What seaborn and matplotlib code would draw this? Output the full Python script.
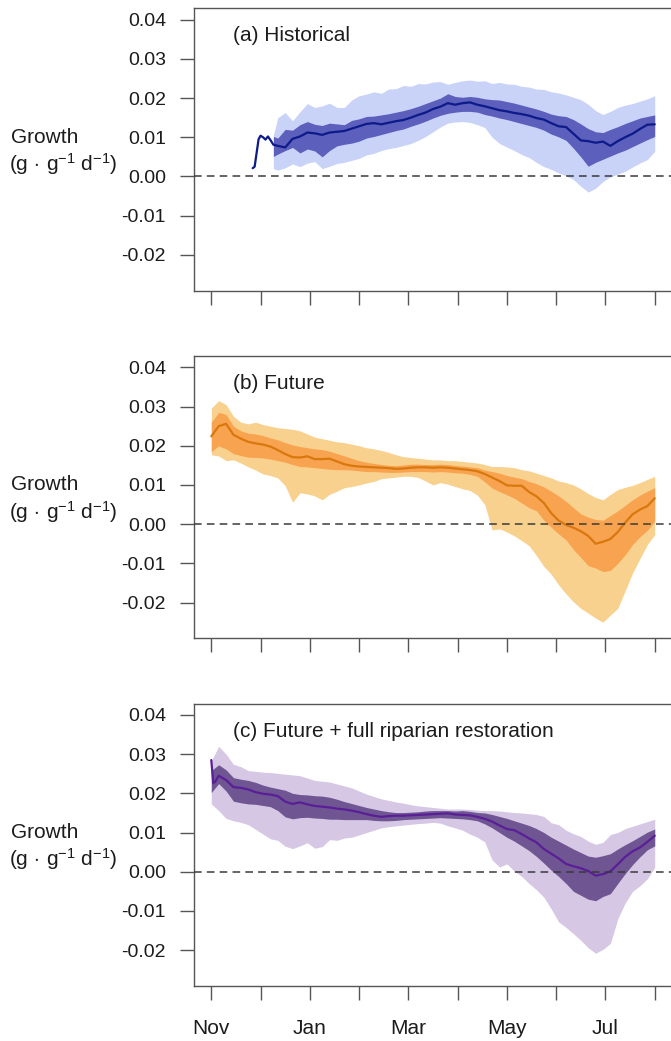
import numpy as np
import pandas as pd
import matplotlib
matplotlib.use("Agg")
import matplotlib.pyplot as plt
import matplotlib.transforms as mtransforms
import seaborn as sns

sns.set_theme(style="white")
plt.rcParams['font.family'] = ['Liberation Sans', 'DejaVu Sans']
plt.rcParams['mathtext.fontset'] = 'custom'
plt.rcParams['mathtext.rm'] = 'Liberation Sans'
plt.rcParams['mathtext.it'] = 'Liberation Sans:italic'
plt.rcParams['mathtext.bf'] = 'Liberation Sans:bold'

# ---------------- data (growth in units of 1e-3 g g^-1 d^-1; x in months since Nov 1) ----------------
SCALE = 1e-3
months = [0, 0.15, 0.3, 0.45, 0.6, 0.75, 0.9, 1.05, 1.2, 1.35, 1.5, 1.65, 1.8, 1.95, 2.1, 2.25, 2.4, 2.55,
          2.7, 2.85, 3.0, 3.15, 3.3, 3.45, 3.6, 3.75, 3.9, 4.05, 4.2, 4.35, 4.5, 4.65, 4.8, 4.95, 5.1, 5.25,
          5.4, 5.55, 5.7, 5.85, 6.0, 6.15, 6.3, 6.45, 6.6, 6.75, 6.9, 7.05, 7.2, 7.35, 7.5, 7.65, 7.8, 7.95,
          8.1, 8.25, 8.4, 8.55, 8.7, 8.85, 9.0]
month_ticks = [0, 1, 2, 3, 4, 5, 6, 7, 8, 9]
month_labels = ["Nov", "", "Jan", "", "Mar", "", "May", "", "Jul", ""]
y_ticks = [-0.02, -0.01, 0.00, 0.01, 0.02, 0.03, 0.04]
y_tick_labels = ["-0.02", "-0.01", "0.00", "0.01", "0.02", "0.03", "0.04"]

# (a) Historical
hist_x_early = [0.84, 0.88, 0.92, 0.96, 1.0, 1.05, 1.1, 1.15, 1.2]
hist_mean_early = [2.1, 2.5, 6.0, 9.5, 10.4, 10.0, 9.4, 10.2, 9.3]
hist_x = [1.26] + months[9:]
hist_mean = [8.1, 7.8, 7.4, 9.6, 10.2, 11.2, 11.0, 10.6, 11.2, 11.4,
             11.6, 12.2, 12.8, 13.4, 13.6, 13.3, 13.7, 14.1, 14.4, 15.0,
             15.7, 16.3, 17.2, 17.8, 18.7, 18.3, 18.7, 18.9, 18.3, 17.9,
             17.4, 16.9, 16.6, 16.2, 15.9, 15.5, 14.9, 14.5, 13.6, 12.8,
             12.6, 10.9, 9.2, 9.0, 8.6, 8.9, 7.8, 9.0, 10.0, 10.9,
             12.1, 13.2, 13.3]
hist_in_hi = [10.2, 9.8, 12.0, 11.8, 13.2, 14.0, 13.3, 13.0, 13.6, 13.4,
              13.2, 14.3, 14.7, 15.3, 15.4, 15.7, 16.0, 16.4, 16.8, 17.3,
              17.9, 18.6, 19.3, 20.0, 21.1, 20.4, 20.2, 20.4, 20.2, 19.8,
              19.6, 19.5, 19.1, 18.7, 18.2, 17.7, 17.2, 16.6, 15.9, 15.5,
              15.3, 14.5, 13.4, 12.2, 11.4, 11.2, 12.0, 12.7, 13.5, 14.2,
              14.9, 15.3, 15.7]
hist_in_lo = [5.1, 5.7, 6.6, 7.4, 6.0, 7.0, 6.5, 5.0, 6.6, 7.8,
              8.2, 8.5, 9.0, 9.8, 10.2, 10.7, 11.2, 11.7, 12.1, 12.8,
              13.4, 14.1, 14.9, 15.6, 16.1, 16.4, 16.6, 16.6, 16.4, 15.8,
              15.4, 14.9, 14.5, 14.0, 13.5, 13.0, 12.5, 11.8, 10.8, 10.1,
              9.2, 7.2, 5.0, 2.6, 3.6, 4.4, 5.2, 6.0, 6.7, 7.6,
              8.5, 9.4, 10.2]
hist_out_hi = [10.5, 15.0, 16.3, 14.2, 16.5, 18.6, 17.6, 18.0, 18.7, 17.6,
               17.6, 19.5, 20.6, 21.0, 21.6, 21.2, 22.3, 22.4, 23.2, 23.0,
               23.7, 23.6, 24.1, 24.2, 23.5, 24.0, 24.4, 24.6, 24.3, 24.4,
               23.7, 24.0, 23.6, 23.5, 23.0, 22.8, 22.3, 22.2, 21.6, 21.3,
               20.8, 20.2, 19.6, 18.4, 16.8, 15.8, 16.6, 17.6, 18.2, 18.6,
               19.2, 19.8, 20.6]
hist_out_lo = [2.0, 1.6, 2.2, 3.2, 2.5, 3.4, 3.8, 2.0, 2.6, 3.3,
               3.6, 4.1, 4.6, 5.5, 5.9, 6.6, 7.1, 7.4, 7.9, 8.4,
               9.2, 10.2, 11.4, 12.6, 13.6, 13.9, 14.0, 13.8, 13.2, 12.5,
               10.0, 8.4, 7.5, 6.6, 5.6, 4.8, 3.6, 2.5, 1.8, 0.9,
               0.2, -0.8, -2.5, -4.0, -3.0, -1.3, -0.1, 0.6, 1.3, 2.4,
               3.4, 4.3, 6.4]

# (b) Future
fut_x = months
fut_mean = [22.4, 25.0, 25.6, 22.8, 21.8, 21.0, 20.6, 20.3, 19.8, 18.9,
            17.9, 17.1, 17.0, 17.3, 16.6, 16.6, 16.7, 16.0, 15.3, 14.9,
            14.7, 14.6, 14.5, 14.4, 14.3, 14.1, 14.2, 14.4, 14.5, 14.5,
            14.4, 14.5, 14.4, 14.2, 14.0, 13.8, 13.5, 12.8, 11.9, 11.0,
            9.9, 9.8, 9.8, 8.2, 7.1, 5.4, 2.8, 0.9, -0.2, -0.9,
            -1.8, -3.0, -5.0, -4.5, -3.8, -2.0, 0.4, 2.5, 3.7, 4.6,
            6.6]
fut_in_hi = [26.0, 28.5, 28.0, 25.0, 23.8, 23.2, 23.0, 22.6, 22.0, 21.5,
             20.8, 20.2, 19.8, 19.5, 19.2, 19.0, 18.6, 18.0, 17.4, 16.8,
             16.2, 15.8, 15.5, 15.2, 15.0, 14.9, 15.1, 15.3, 15.3, 15.2,
             15.2, 15.3, 15.2, 15.0, 14.8, 14.6, 14.4, 13.8, 13.4, 13.0,
             12.4, 12.0, 11.6, 10.9, 10.3, 9.5, 8.4, 7.2, 5.8, 4.2,
             2.6, 1.8, 1.2, 1.0, 2.2, 3.4, 4.8, 6.2, 7.4, 8.4,
             9.3]
fut_in_lo = [18.5, 20.0, 19.2, 18.0, 17.5, 17.1, 17.0, 16.9, 16.6, 16.2,
             15.8, 15.2, 14.7, 14.6, 14.4, 14.2, 14.0, 13.9, 13.9, 13.8,
             13.6, 13.4, 13.4, 13.3, 13.2, 13.2, 13.3, 13.4, 13.4, 13.4,
             13.3, 13.4, 13.3, 13.1, 13.0, 12.7, 12.2, 10.8, 9.2, 8.3,
             7.5, 6.6, 5.4, 4.2, 3.4, 1.0, -0.8, -2.5, -4.0, -6.5,
             -8.5, -10.6, -11.2, -12.1, -11.8, -10.0, -7.8, -5.2, -3.2, -1.6,
             0.7]
fut_out_hi = [29.6, 31.5, 30.5, 27.5, 26.0, 25.6, 26.0, 25.4, 25.0, 24.6,
              24.4, 24.2, 23.8, 23.0, 22.2, 21.8, 21.4, 21.0, 20.8, 20.4,
              20.0, 19.5, 19.2, 18.8, 18.3, 17.7, 17.2, 17.0, 16.8, 16.6,
              16.4, 16.4, 16.2, 16.2, 16.0, 15.8, 15.6, 15.2, 14.7, 14.7,
              14.6, 14.4, 13.9, 13.6, 13.0, 12.4, 11.8, 11.0, 10.6, 10.0,
              9.0, 7.8, 6.8, 6.2, 7.6, 8.8, 9.4, 9.9, 10.6, 11.4,
              12.2]
fut_out_lo = [17.7, 17.4, 16.2, 16.4, 15.6, 14.6, 13.8, 12.8, 12.4, 11.8,
              9.8, 5.6, 8.0, 7.7, 7.2, 6.2, 7.6, 8.4, 9.3, 9.6,
              10.0, 10.5, 10.9, 11.6, 11.8, 12.0, 12.2, 12.2, 11.9, 11.0,
              10.0, 10.6, 10.2, 9.6, 9.0, 8.6, 7.4, 5.0, -1.5, -1.2,
              -2.0, -3.0, -4.2, -5.5, -8.0, -10.8, -12.8, -15.5, -17.8, -19.8,
              -21.5, -22.7, -24.0, -25.0, -23.2, -21.5, -17.0, -12.5, -8.8, -5.2,
              -2.7]

# (c) Future + full riparian restoration
rest_x = months
rest_x_line = [0, 0.04, 0.08] + months[1:]
rest_mean = [28.5, 22.6, 23.0,
             24.5, 23.4, 21.6, 21.4, 21.0, 20.3, 19.9, 19.7, 19.3,
             17.9, 17.3, 17.7, 17.2, 16.8, 16.6, 16.4, 16.1, 15.9, 15.6,
             15.2, 14.7, 14.3, 14.0, 14.2, 14.3, 14.3, 14.4, 14.5, 14.6,
             14.7, 14.8, 14.9, 14.6, 14.5, 14.4, 14.0, 13.5, 12.8, 11.8,
             10.9, 10.6, 9.6, 8.5, 7.5, 5.8, 4.6, 3.4, 2.0, 1.4,
             0.9, 0.2, -1.0, -0.6, 0.1, 1.9, 3.8, 5.2, 6.2, 7.6,
             9.2]
rest_in_hi = [25.8, 27.3, 26.0, 24.0, 23.6, 23.3, 22.8, 22.1, 21.6, 21.2,
              20.8, 20.0, 19.7, 19.6, 19.4, 19.3, 19.0, 18.5, 17.9, 17.4,
              16.9, 16.4, 16.0, 15.6, 15.3, 15.1, 15.1, 15.2, 15.3, 15.5,
              15.6, 15.6, 15.6, 15.5, 15.6, 15.4, 15.1, 15.0, 14.6, 14.1,
              13.6, 13.0, 12.4, 11.8, 11.0, 10.0, 8.8, 7.8, 6.8, 5.8,
              4.9, 4.0, 3.7, 4.1, 4.6, 5.8, 6.9, 7.9, 9.0, 10.1,
              10.9]
rest_in_lo = [20.2, 22.5, 20.6, 18.0, 17.6, 17.3, 17.2, 16.9, 16.6, 15.6,
              14.0, 13.5, 13.8, 13.9, 13.7, 13.6, 13.4, 13.4, 13.3, 13.3,
              13.3, 13.3, 13.1, 13.0, 13.0, 13.1, 13.3, 13.4, 13.5, 13.6,
              13.7, 13.8, 13.7, 13.6, 13.5, 13.3, 13.0, 12.2, 11.2, 10.0,
              8.8, 7.8, 6.6, 5.4, 3.9, 2.2, 0.4, -1.2, -3.0, -5.0,
              -6.0, -7.0, -7.4, -6.3, -5.6, -3.0, -0.5, 1.8, 3.8, 5.6,
              6.6]
rest_out_hi = [28.3, 32.0, 30.0, 27.4, 26.8, 25.8, 25.6, 25.4, 25.3, 25.1,
               24.9, 24.7, 24.5, 23.9, 23.3, 23.1, 22.9, 22.4, 21.9, 21.4,
               20.6, 19.8, 19.2, 18.6, 18.2, 17.8, 17.5, 17.1, 16.8, 16.6,
               16.4, 16.2, 16.0, 16.0, 16.0, 15.9, 15.7, 15.6, 15.6, 15.5,
               15.3, 15.1, 15.0, 14.8, 14.6, 14.1, 12.5, 12.0, 10.6, 9.7,
               9.0, 7.8, 7.0, 7.5, 9.5, 10.0, 11.0, 11.6, 12.2, 12.8,
               13.4]
rest_out_lo = [17.3, 15.6, 13.6, 13.0, 12.6, 12.0, 10.8, 9.6, 8.4, 8.0,
               6.5, 5.9, 6.6, 7.4, 6.0, 6.4, 8.2, 8.0, 8.6, 8.8,
               9.4, 10.0, 10.6, 11.2, 11.5, 11.7, 11.9, 12.1, 12.3, 12.4,
               12.6, 12.4, 11.7, 11.2, 10.6, 9.6, 8.8, 7.6, 3.0, 1.2,
               2.0, 0.2, -1.2, -3.0, -4.6, -6.5, -9.5, -12.8, -14.2, -15.8,
               -17.5, -19.4, -20.8, -19.8, -18.3, -12.0, -8.0, -5.0, -3.6, -1.8,
               1.1]

panels = [
    dict(title="(a) Historical",
         line_x=hist_x_early + hist_x, line_y=hist_mean_early + hist_mean,
         band_x=hist_x, in_lo=hist_in_lo, in_hi=hist_in_hi, out_lo=hist_out_lo, out_hi=hist_out_hi,
         light="#c9d3f8", dark="#5c5fbb", line="#0c1a8a"),
    dict(title="(b) Future",
         line_x=fut_x, line_y=fut_mean,
         band_x=fut_x, in_lo=fut_in_lo, in_hi=fut_in_hi, out_lo=fut_out_lo, out_hi=fut_out_hi,
         light="#f9d18f", dark="#f8a34f", line="#d8780f"),
    dict(title="(c) Future + full riparian restoration",
         line_x=rest_x_line, line_y=rest_mean,
         band_x=rest_x, in_lo=rest_in_lo, in_hi=rest_in_hi, out_lo=rest_out_lo, out_hi=rest_out_hi,
         light="#d6c7e4", dark="#6f5592", line="#5a1f97"),
]

# ---------------- figure ----------------
W, H = 671, 1041
fig = plt.figure(figsize=(W / 100, H / 100), dpi=100)
LEFT, RIGHT = 193.5, 672.5
tops = [8.3, 356.0, 703.6]
AX_H = 282.2
SPINE = "#555555"
TXT = "#1c1c1c"

for i, (p, top) in enumerate(zip(panels, tops)):
    bottom = top + AX_H
    ax = fig.add_axes([LEFT / W, 1 - bottom / H, (RIGHT - LEFT) / W, AX_H / H])
    bx = np.array(p["band_x"])
    ax.fill_between(bx, np.array(p["out_lo"]) * SCALE, np.array(p["out_hi"]) * SCALE,
                    color=p["light"], lw=0, zorder=1)
    ax.fill_between(bx, np.array(p["in_lo"]) * SCALE, np.array(p["in_hi"]) * SCALE,
                    color=p["dark"], lw=0, zorder=2)
    df = pd.DataFrame({"month": p["line_x"], "growth": np.array(p["line_y"]) * SCALE})
    sns.lineplot(data=df, x="month", y="growth", ax=ax, color=p["line"], lw=1.6,
                 estimator=None, sort=False, zorder=3)
    ax.axhline(0, color="#3a3a3a", lw=1.1, ls=(0, (5.0, 3.4)), zorder=4)

    ax.set_xlim(-0.361, 9.361)
    ax.set_ylim(-0.0291, 0.0429)
    ax.set_xlabel("")
    ax.set_ylabel("")
    ax.set_yticks(y_ticks)
    ax.set_yticklabels(y_tick_labels)
    ax.set_xticks(month_ticks)
    if i == 2:
        ax.set_xticklabels(month_labels)
    else:
        ax.set_xticklabels([""] * len(month_ticks))
    for s in ["top", "left", "bottom"]:
        ax.spines[s].set_visible(True)
        ax.spines[s].set_color(SPINE)
        ax.spines[s].set_linewidth(1.0)
    ax.spines["right"].set_visible(False)
    ax.tick_params(axis="y", direction="out", length=9.8, width=1.0, color=SPINE,
                   labelsize=14, labelcolor=TXT, pad=10.0, left=True)
    ax.tick_params(axis="x", direction="out", length=9.8, width=1.0, color=SPINE,
                   labelsize=15, labelcolor=TXT, pad=14, bottom=True)
    ax.grid(False)
    ax.set_facecolor("white")

    ax.text((233 - LEFT) / (RIGHT - LEFT), 1 - 27.5 / AX_H, p["title"], transform=ax.transAxes,
            ha="left", va="center", fontsize=15, color=TXT)

    tr = mtransforms.blended_transform_factory(fig.transFigure, ax.transData)
    ax.text(11 / W, 0.0100, "Growth", transform=tr, ha="left", va="center",
            fontsize=15, color=TXT, clip_on=False)
    ax.text(9 / W, 0.0032, r"(g$\,\cdot\,$g$^{-1}$ d$^{-1}$)", transform=tr, ha="left", va="center",
            fontsize=15, color=TXT, clip_on=False)

fig.savefig("out.png", dpi=100, facecolor="white")
